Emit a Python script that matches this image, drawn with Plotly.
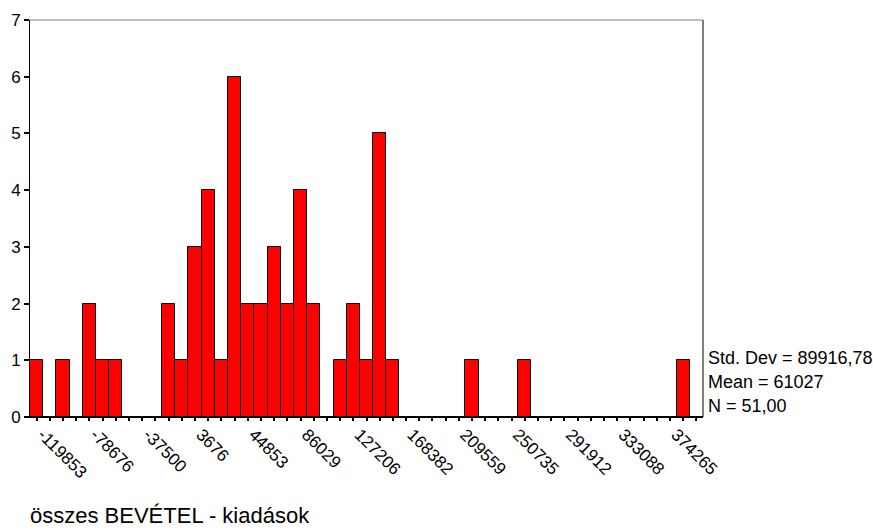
import plotly.graph_objects as go

# Histogram of "összes BEVÉTEL - kiadások" (income minus expenses), 51 equal-width bins
tick_labels = ["-119853", "-78676", "-37500", "3676", "44853", "86029", "127206",
               "168382", "209559", "250735", "291912", "333088", "374265"]

counts = [1, 0, 1, 0, 2, 1, 1, 0, 0, 0,
          2, 1, 3, 4, 1, 6, 2, 2, 3, 2,
          4, 2, 0, 1, 2, 1, 5, 1, 0, 0,
          0, 0, 0, 1, 0, 0, 0, 1, 0, 0,
          0, 0, 0, 0, 0, 0, 0, 0, 0, 1,
          0]

stats_lines = ["Std. Dev = 89916,78", "Mean = 61027", "N = 51,00"]
axis_title = "összes BEVÉTEL - kiadások"

# Bin geometry: labelled ticks sit on every 4th bin centre, starting at bin 1
label_vals = [float(v) for v in tick_labels]
bins_per_label = 4
step = (label_vals[-1] - label_vals[0]) / ((len(label_vals) - 1) * bins_per_label)
centers = [label_vals[0] + (i - 1) * step for i in range(len(counts))]
tick_text = []
for i in range(len(counts)):
    k = i - 1
    if k >= 0 and k % bins_per_label == 0 and k // bins_per_label < len(tick_labels):
        tick_text.append(tick_labels[k // bins_per_label])
    else:
        tick_text.append("")

FONT = "Liberation Sans, Arial, sans-serif"

fig = go.Figure(go.Bar(
    x=centers, y=counts, width=[step] * len(counts),
    marker=dict(color="#ff0000", line=dict(color="black", width=1)),
    hoverinfo="x+y",
))

fig.update_layout(
    width=873, height=530,
    margin=dict(l=30, r=170, t=20, b=113),
    paper_bgcolor="white", plot_bgcolor="white",
    showlegend=False, bargap=0,
    font=dict(family=FONT, size=17, color="black"),
    xaxis=dict(
        range=[centers[0] - step / 2, centers[-1] + step / 2],
        tickmode="array", tickvals=centers, ticktext=tick_text,
        tickangle=45, ticks="outside", ticklen=3, tickwidth=2, tickcolor="black",
        ticklabelshift=-7, ticklabelstandoff=-3,
        showline=True, linecolor="black", linewidth=1,
        showgrid=False, zeroline=False,
        tickfont=dict(family=FONT, size=17, color="black"),
    ),
    yaxis=dict(
        range=[0, 7], dtick=1, tick0=0,
        ticks="outside", ticklen=5, tickwidth=2, tickcolor="black",
        showline=True, linecolor="black", linewidth=1,
        showgrid=False, zeroline=False,
        tickfont=dict(family=FONT, size=17, color="black"),
    ),
    shapes=[
        dict(type="line", xref="paper", yref="paper", x0=0, x1=1, y0=1, y1=1,
             line=dict(color="#808080", width=1)),
        dict(type="line", xref="paper", yref="paper", x0=1, x1=1, y0=0, y1=1,
             line=dict(color="black", width=1)),
    ],
)

# Summary statistics to the right of the plot area
for j, line in enumerate(stats_lines):
    fig.add_annotation(
        text=line, xref="paper", yref="paper", x=1, y=(59 - 24 * j) / 397,
        xanchor="left", yanchor="middle", xshift=3, showarrow=False,
        font=dict(family=FONT, size=18, color="black"),
    )

# Variable name below the axis labels
fig.add_annotation(
    text=axis_title, xref="paper", yref="paper", x=0, y=-98 / 397,
    xanchor="left", yanchor="middle", xshift=-2, showarrow=False,
    font=dict(family=FONT, size=22, color="black"),
)

fig.write_html("out.html")
